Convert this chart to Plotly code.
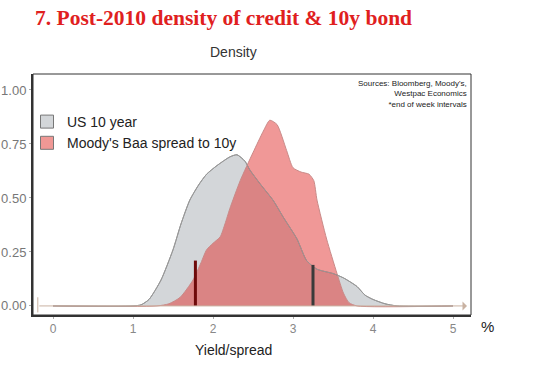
import plotly.graph_objects as go

# ---- data ----
us10_x = [0.0, 1.0, 1.1, 1.2, 1.35, 1.5, 1.6, 1.71, 1.82, 1.92, 2.05, 2.21, 2.3, 2.4, 2.46,
          2.6, 2.75, 2.88, 3.05, 3.17, 3.3, 3.5, 3.63, 3.8, 3.9, 4.0, 4.15, 4.3, 5.0]
us10_y = [0.0, 0.0, 0.005, 0.03, 0.12, 0.26, 0.38, 0.49, 0.56, 0.61, 0.65, 0.69, 0.70, 0.67, 0.63,
          0.56, 0.49, 0.41, 0.31, 0.21, 0.17, 0.15, 0.13, 0.09, 0.05, 0.03, 0.01, 0.0, 0.0]

baa_x = [0.0, 1.3, 1.45, 1.59, 1.75, 1.85, 1.92, 2.0, 2.09, 2.15, 2.21, 2.34, 2.5, 2.63, 2.71,
         2.8, 2.92, 3.0, 3.1, 3.2, 3.26, 3.3, 3.42, 3.55, 3.63, 3.7, 3.8, 5.0]
baa_y = [0.0, 0.0, 0.01, 0.04, 0.12, 0.2, 0.26, 0.29, 0.32, 0.38, 0.45, 0.58, 0.71, 0.81, 0.86,
         0.84, 0.72, 0.64, 0.62, 0.61, 0.58, 0.49, 0.31, 0.15, 0.06, 0.015, 0.0, 0.0]

marker_names = ["Moody's Baa spread to 10y", "US 10 year"]
marker_x = [1.78, 3.25]
marker_h = [0.21, 0.19]

x_ticks = [0, 1, 2, 3, 4, 5]
y_ticks = [0.0, 0.25, 0.5, 0.75, 1.0]
y_tick_labels = ["0.00", "0.25", "0.50", "0.75", "1.00"]

series_names = ["US 10 year", "Moody's Baa spread to 10y"]

# page body margin is removed via post_script, so figure pixels == screen pixels
W, H = 538, 377
L, R, T, B = 33, W - 471, 74, H - 315
PW, PH = W - L - R, H - T - B


def px(xs):
    return (xs - L) / PW


def py(ys):
    return (H - B - ys) / PH


fig = go.Figure()

fig.add_trace(go.Scatter(x=us10_x, y=us10_y, name=series_names[0], mode="lines", showlegend=False,
                         line=dict(color="#8c8c8c", width=1, shape="spline", smoothing=0.6),
                         fill="tozeroy", fillcolor="#d3d6d9"))
fig.add_trace(go.Scatter(x=baa_x, y=baa_y, name=series_names[1], mode="lines", showlegend=False,
                         line=dict(color="#c98a88", width=1, shape="spline", smoothing=0.6),
                         fill="tozeroy", fillcolor="rgba(225,50,48,0.5)"))
fig.add_trace(go.Scatter(x=us10_x, y=us10_y, mode="lines", showlegend=False, hoverinfo="skip",
                         line=dict(color="#999999", width=1, shape="spline", smoothing=0.6)))

marker_colors = ["#6e0a0a", "#3a3a3a"]
for i in range(len(marker_x)):
    fig.add_trace(go.Scatter(x=[marker_x[i], marker_x[i]], y=[0, marker_h[i]], mode="lines",
                             showlegend=False, hoverinfo="skip",
                             line=dict(color=marker_colors[i], width=3)))

# legend entries (square swatches)
legend_colors = ["#d3d6d9", "#f09895"]
for i in range(2):
    fig.add_trace(go.Scatter(x=[None], y=[None], mode="markers", name=series_names[i],
                             marker=dict(symbol="square", size=13, color=legend_colors[i],
                                         line=dict(color="#777777", width=1))))

# baseline arrow (tan)
fig.add_annotation(x=5.175, y=0, ax=-0.19, ay=0, xref="x", yref="y", axref="x", ayref="y",
                   showarrow=True, arrowhead=1, arrowsize=1.5, arrowwidth=1, arrowcolor="#c9b2a2", text="")
fig.add_shape(type="line", x0=-0.19, x1=-0.19, y0=-0.03, y1=0.04, xref="x", yref="y",
              line=dict(color="#c9b2a2", width=1))

# panel border
fig.add_shape(type="rect", xref="paper", yref="paper", x0=0, y0=0, x1=1, y1=1,
              line=dict(color="#333333", width=1))

fig.add_annotation(text="Density", xref="paper", yref="paper", x=px(233), y=py(52),
                   xanchor="center", yanchor="middle",
                   showarrow=False, font=dict(family="Liberation Sans, Arial", size=14, color="#333333"))
fig.add_annotation(text="Yield/spread", xref="paper", yref="paper", x=px(233), y=py(350),
                   xanchor="center", yanchor="middle",
                   showarrow=False, font=dict(family="Liberation Sans, Arial", size=14, color="#222222"))
fig.add_annotation(text="%", xref="paper", yref="paper", x=px(487), y=py(326),
                   xanchor="center", yanchor="middle",
                   showarrow=False, font=dict(family="Liberation Sans, Arial", size=15, color="#222222"))
fig.add_annotation(text="Sources: Bloomberg, Moody's,<br>Westpac Economics<br>*end of week intervals",
                   xref="paper", yref="paper", x=px(469), y=py(77),
                   xanchor="right", yanchor="top", align="right", showarrow=False,
                   font=dict(family="Liberation Sans, Arial", size=8, color="#222222"))

fig.update_layout(
    width=W, height=H,
    margin=dict(l=L, r=R, t=T, b=B, autoexpand=False),
    paper_bgcolor="white", plot_bgcolor="white",
    title=dict(text="<b>7. Post-2010 density of credit & 10y bond</b>", x=35 / W, xanchor="left",
               y=1 - 17 / H, yanchor="middle",
               font=dict(family="Liberation Serif, Times New Roman", size=21.5, color="#e0201e")),
    showlegend=True,
    legend=dict(x=px(27), y=py(106), xanchor="left", yanchor="top",
                bgcolor="rgba(0,0,0,0)", font=dict(family="Liberation Sans, Arial", size=14, color="#222222"),
                tracegroupgap=0, itemwidth=30),
    xaxis=dict(range=[-0.25, 5.225], tickvals=x_ticks, showgrid=False, zeroline=False, automargin=False,
               showline=True, linecolor="#333333", linewidth=2, ticks="outside", ticklen=2,
               tickcolor="#aaaaaa", tickfont=dict(family="Liberation Sans, Arial", size=12, color="#888888")),
    yaxis=dict(range=[-0.042, 1.074], tickvals=y_ticks, ticktext=y_tick_labels, showgrid=False,
               zeroline=False, showline=True, linecolor="#333333", linewidth=2, ticks="outside",
               ticklen=2, tickcolor="#aaaaaa", automargin=False,
               tickfont=dict(family="Liberation Sans, Arial", size=13, color="#777777")),
)

fig.write_html("out.html", config={"displayModeBar": False},
               post_script="document.body.style.margin='0';")
